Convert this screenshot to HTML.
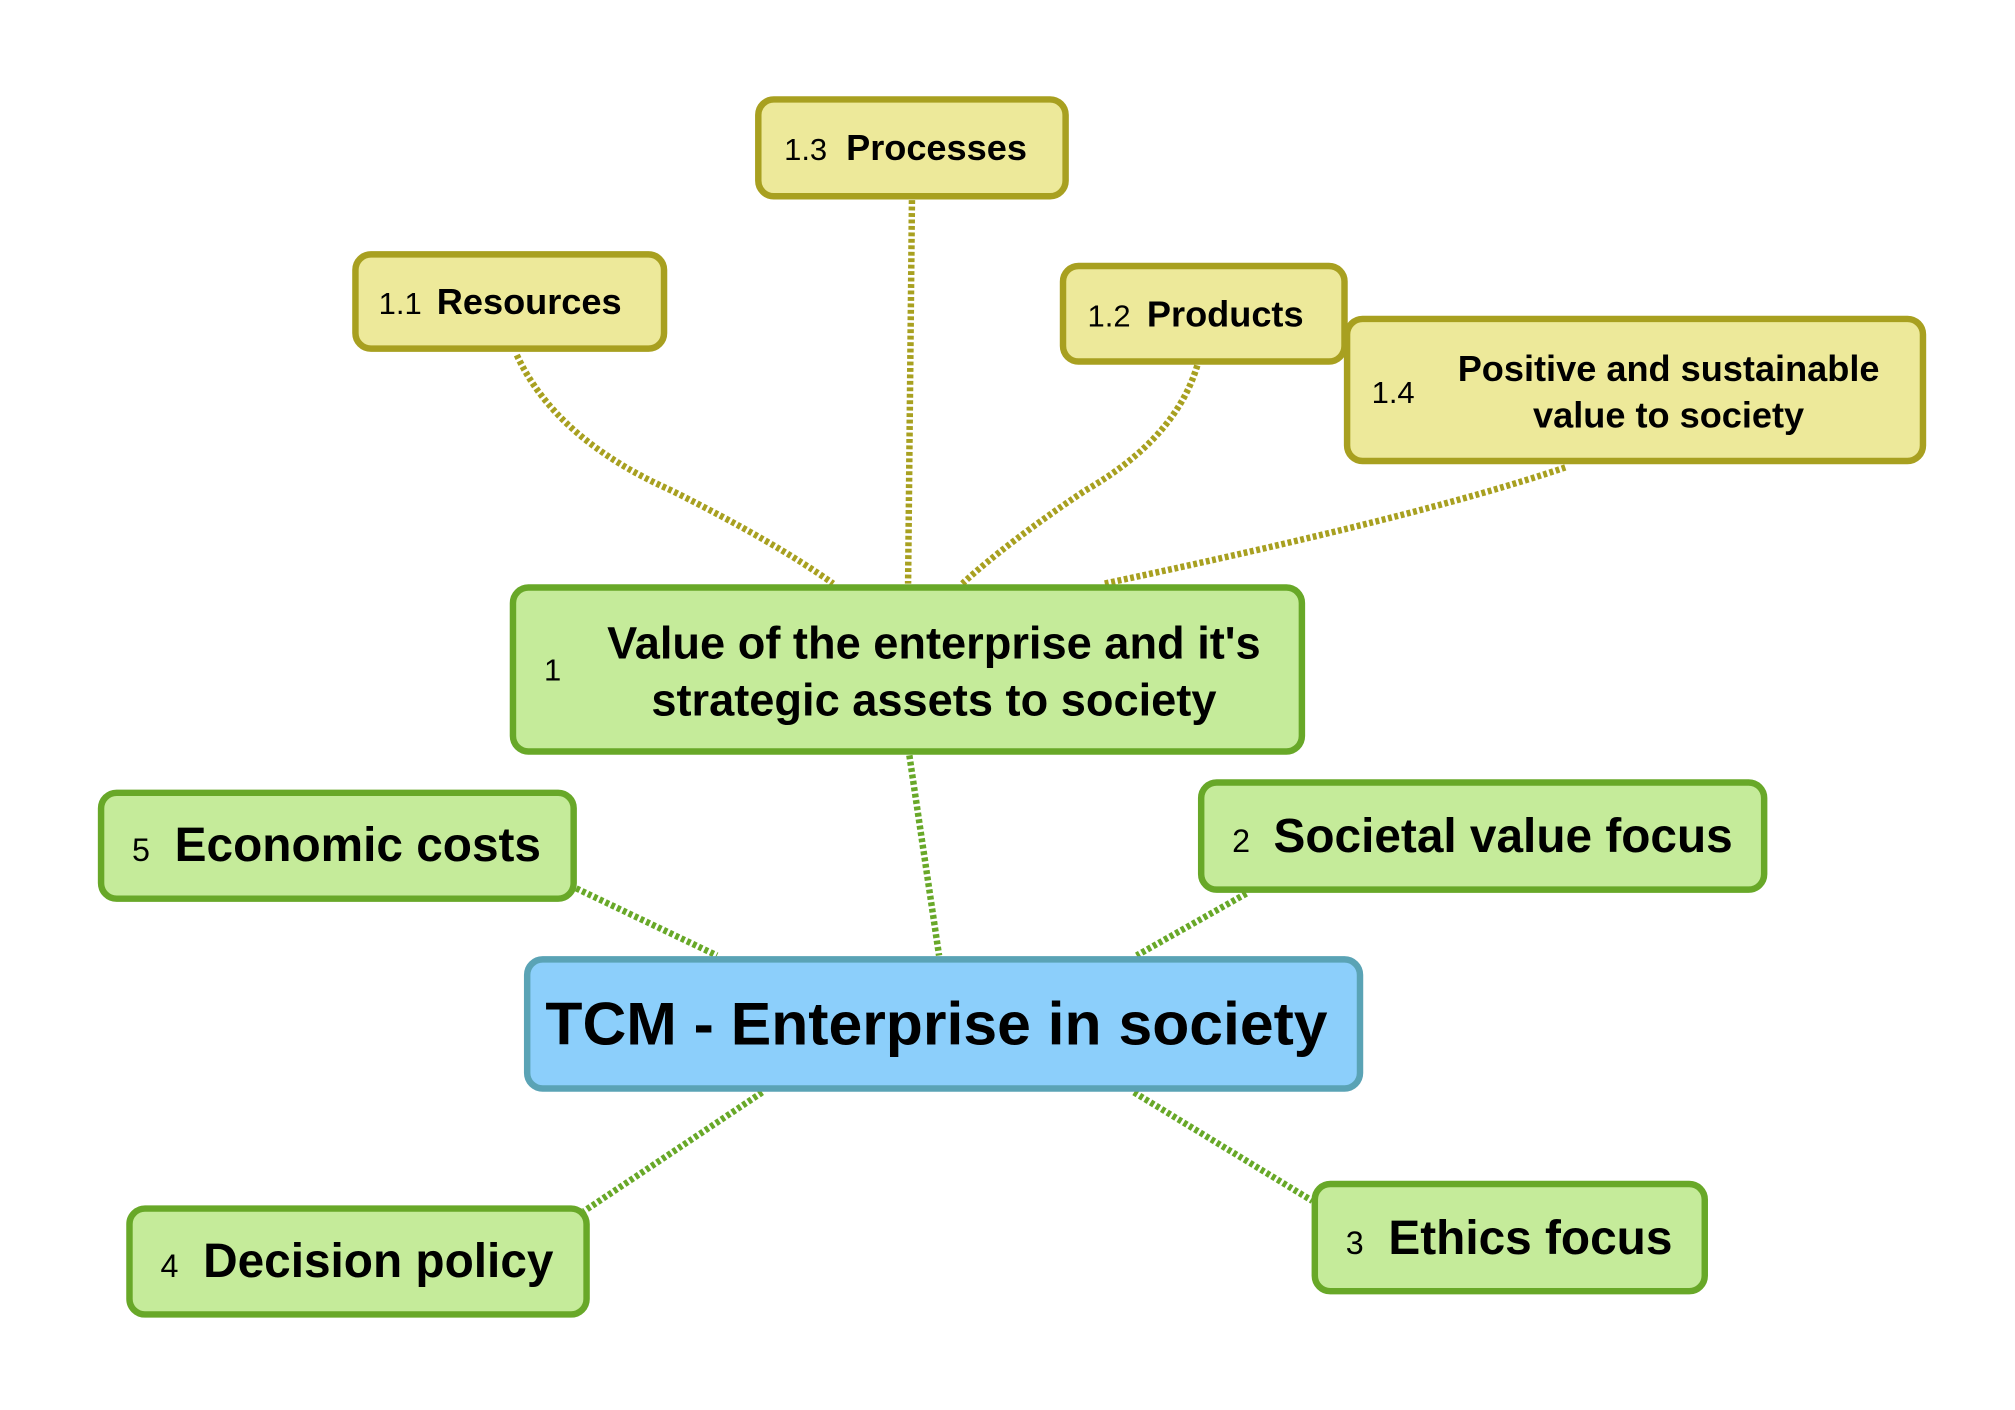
<!DOCTYPE html>
<html><head><meta charset="utf-8"><style>html,body{margin:0;padding:0;background:#fff}svg{display:block}text{font-family:"Liberation Sans",Arial,sans-serif}</style></head><body>
<svg width="2015" height="1410" viewBox="0 0 1560 1092" xmlns="http://www.w3.org/2000/svg">
<g fill="none" stroke-width="5" stroke-dasharray="3 2">
<g stroke="#a8a020">
<path d="M400 275 Q430 340 520 380 Q600 420 645 452"/>
<path d="M706 155 L703 452"/>
<path d="M927 283 Q910 340 840 380 Q780 420 745 452"/>
<path d="M1212 362 Q1100 400 855 452"/>
</g>
<g stroke="#68a828">
<path d="M704 585 L727 740"/>
<path d="M446 688 L555 740"/>
<path d="M965 692 L880 740"/>
<path d="M590 846 L452 938"/>
<path d="M878 846 L1016 930"/>
</g>
</g>
<g stroke-width="5">
<g fill="#ede99a" stroke="#a8a020">
<rect x="587" y="77" width="238" height="75" rx="12"/>
<rect x="275" y="197" width="239" height="73" rx="12"/>
<rect x="823" y="206" width="218" height="74" rx="12"/>
<rect x="1043" y="247" width="446" height="110" rx="12"/>
</g>
<g fill="#c5eb9a" stroke="#68a828">
<rect x="397" y="455" width="611" height="127" rx="12"/>
<rect x="78" y="614" width="366" height="82" rx="12"/>
<rect x="930" y="606" width="436" height="83" rx="12"/>
<rect x="100" y="936" width="354" height="82" rx="12"/>
<rect x="1018" y="917" width="302" height="83" rx="12"/>
</g>
<rect x="408" y="743" width="645" height="100" rx="12" fill="#8ccffb" stroke="#5aa3b5"/>
</g>
<g fill="#000" font-weight="bold">
<text x="607" y="124" font-size="24" font-weight="normal">1.3</text><text x="655" y="124" font-size="28">Processes</text>
<text x="293" y="243" font-size="24" font-weight="normal">1.1</text><text x="338" y="243" font-size="28">Resources</text>
<text x="842" y="253" font-size="24" font-weight="normal">1.2</text><text x="888" y="253" font-size="28">Products</text>
<text x="1062" y="312" font-size="24" font-weight="normal">1.4</text>
<text x="1292" y="295" font-size="28" text-anchor="middle">Positive and sustainable</text>
<text x="1292" y="331" font-size="28" text-anchor="middle">value to society</text>
<text x="421" y="527" font-size="24" font-weight="normal">1</text>
<text x="723" y="510" font-size="35" text-anchor="middle">Value of the enterprise and it's</text>
<text x="723" y="554" font-size="35" text-anchor="middle">strategic assets to society</text>
<text x="102" y="667" font-size="25" font-weight="normal">5</text><text x="135" y="667" font-size="37">Economic costs</text>
<text x="954" y="660" font-size="25" font-weight="normal">2</text><text x="986" y="660" font-size="37">Societal value focus</text>
<text x="124" y="989" font-size="25" font-weight="normal">4</text><text x="157" y="989" font-size="37">Decision policy</text>
<text x="1042" y="971" font-size="25" font-weight="normal">3</text><text x="1075" y="971" font-size="37">Ethics focus</text>
<text x="725" y="809" font-size="47" text-anchor="middle">TCM - Enterprise in society</text>
</g>
</svg>
</body></html>
